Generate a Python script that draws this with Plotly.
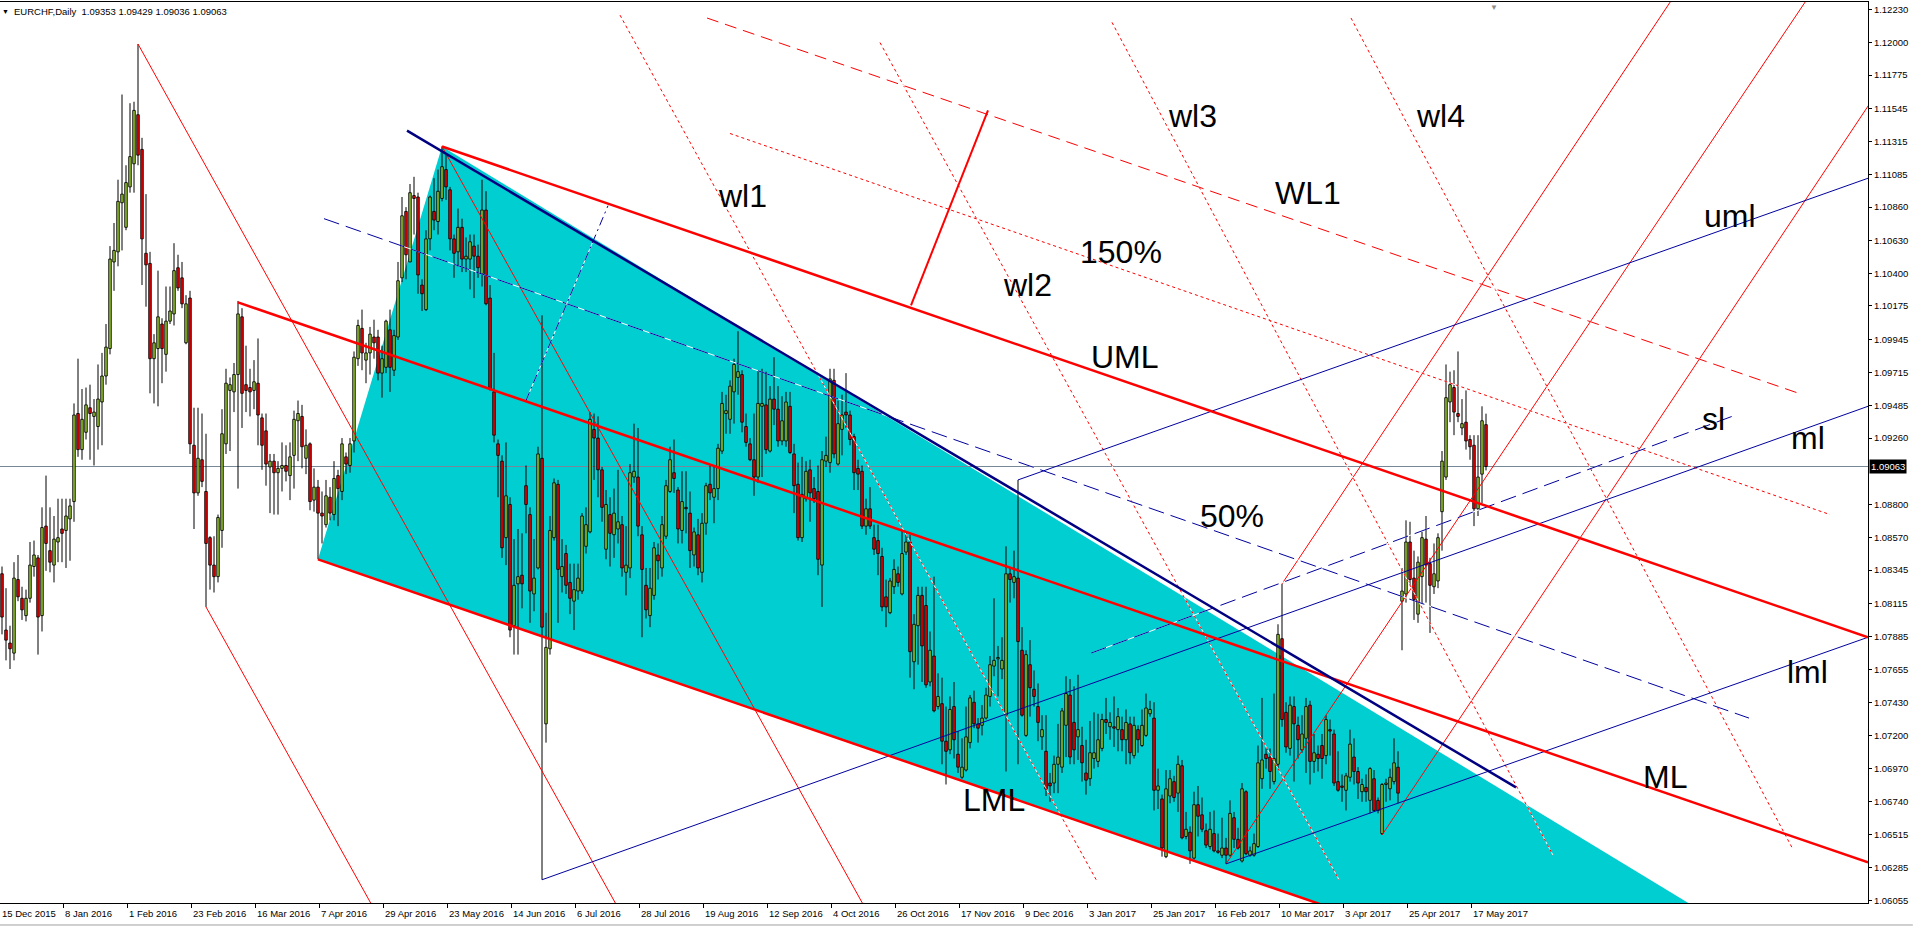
import plotly.graph_objects as go

# EURCHF daily candles; bar index 0 = 15 Dec 2015, one bar per trading day
opens = [
    1.0832, 1.0793, 1.0784, 1.0777, 1.0828, 1.0815, 1.0803, 1.0815, 1.0837, 1.0843,
    1.0803, 1.0865, 1.0848, 1.0838, 1.0854, 1.0863, 1.0862, 1.0870, 1.0882, 1.0943,
    1.0918, 1.0930, 1.0947, 1.0941, 1.0934, 1.0951, 1.0969, 1.0988, 1.1048, 1.1055,
    1.1089, 1.1072, 1.1100, 1.1116, 1.1150, 1.1126, 1.1054, 1.1047, 1.0981, 1.0988,
    1.1005, 1.0984, 1.1007, 1.1012, 1.1044, 1.1037, 1.0992, 1.1023, 1.0921, 1.0888,
    1.0911, 1.0889, 1.0857, 1.0838, 1.0830, 1.0862, 1.0922, 1.0959, 1.0958, 1.0970,
    1.1010, 1.0963, 1.0961, 1.0959, 1.0964, 1.0940, 1.0931, 1.0906, 1.0910, 1.0902,
    1.0905, 1.0907, 1.0900, 1.0914, 1.0938, 1.0941, 1.0912, 1.0922, 1.0883, 1.0892,
    1.0874, 1.0866, 1.0885, 1.0873, 1.0900, 1.0889, 1.0913, 1.0907, 1.0924, 1.0981,
    1.1002, 1.0980, 1.0985, 1.0996, 1.0996, 1.0971, 1.0975, 1.1001, 1.0973, 1.0996,
    1.1037, 1.1083, 1.1048, 1.1094, 1.1093, 1.1032, 1.1015, 1.1064, 1.1083, 1.1076,
    1.1092, 1.1112, 1.1098, 1.1064, 1.1055, 1.1072, 1.1050, 1.1050, 1.1059, 1.1052,
    1.1040, 1.1084, 1.1023, 1.0958, 1.0922, 1.0910, 1.0857, 1.0880, 1.0796, 1.0825,
    1.0831, 1.0893, 1.0873, 1.0818, 1.0836, 1.0912, 1.0728, 1.0780, 1.0857, 1.0894,
    1.0830, 1.0846, 1.0826, 1.0813, 1.0820, 1.0820, 1.0851, 1.0861, 1.0932, 1.0926,
    1.0904, 1.0849, 1.0873, 1.0859, 1.0863, 1.0866, 1.0833, 1.0836, 1.0899, 1.0899,
    1.0859, 1.0824, 1.0803, 1.0817, 1.0845, 1.0836, 1.0858, 1.0889, 1.0902, 1.0890,
    1.0862, 1.0878, 1.0874, 1.0845, 1.0859, 1.0833, 1.0867, 1.0894, 1.0885, 1.0891,
    1.0917, 1.0943, 1.0939, 1.0958, 1.0968, 1.0970, 1.0934, 1.0922, 1.0911, 1.0899,
    1.0948, 1.0949, 1.0917, 1.0953, 1.0946, 1.0924, 1.0924, 1.0948, 1.0915, 1.0894,
    1.0857, 1.0884, 1.0904, 1.0891, 1.0889, 1.0838, 1.0910, 1.0909, 1.0966, 1.0908,
    1.0932, 1.0944, 1.0942, 1.0927, 1.0905, 1.0903, 1.0865, 1.0877, 1.0857, 1.0855,
    1.0844, 1.0816, 1.0805, 1.0823, 1.0832, 1.0818, 1.0847, 1.0854, 1.0771, 1.0796,
    1.0817, 1.0810, 1.0757, 1.0775, 1.0740, 1.0742, 1.0716, 1.0710, 1.0740, 1.0707,
    1.0691, 1.0696, 1.0715, 1.0743, 1.0728, 1.0727, 1.0732, 1.0747, 1.0768, 1.0773,
    1.0766, 1.0734, 1.0832, 1.0826, 1.0829, 1.0779, 1.0720, 1.0769, 1.0752, 1.0740,
    1.0719, 1.0709, 1.0687, 1.0687, 1.0700, 1.0698, 1.0727, 1.0748, 1.0729, 1.0719,
    1.0713, 1.0694, 1.0690, 1.0704, 1.0702, 1.0711, 1.0731, 1.0726, 1.0726, 1.0724,
    1.0724, 1.0717, 1.0728, 1.0706, 1.0724, 1.0713, 1.0720, 1.0735, 1.0732, 1.0682,
    1.0676, 1.0636, 1.0678, 1.0688, 1.0680, 1.0699, 1.0650, 1.0653, 1.0635, 1.0672,
    1.0665, 1.0654, 1.0643, 1.0652, 1.0640, 1.0637, 1.0642, 1.0637, 1.0663, 1.0648,
    1.0633, 1.0681, 1.0637, 1.0637, 1.0643, 1.0690, 1.0707, 1.0705, 1.0688, 1.0700,
    1.0787, 1.0736, 1.0711, 1.0740, 1.0727, 1.0710, 1.0718, 1.0741, 1.0702, 1.0707,
    1.0713, 1.0706, 1.0724, 1.0721, 1.0688, 1.0685, 1.0682, 1.0691, 1.0705, 1.0695,
    1.0681, 1.0684, 1.0675, 1.0690, 1.0675, 1.0652, 1.0686, 1.0683, 1.0688, 1.0698,
    1.0813, 1.0818, 1.0854, 1.0829, 1.0804, 1.0830, 1.0856, 1.0839, 1.0823, 1.0827,
    1.0875, 1.0899, 1.0951, 1.0961, 1.0943, 1.0933, 1.0937, 1.0925, 1.0921, 1.0877,
    1.0901, 1.09353,
]
highs = [
    1.0837, 1.0822, 1.0796, 1.0840, 1.0845, 1.0823, 1.0821, 1.0854, 1.0855, 1.0845,
    1.0878, 1.0900, 1.0878, 1.0872, 1.0884, 1.0884, 1.0884, 1.0884, 1.0950, 1.0981,
    1.0960, 1.0961, 1.0963, 1.0953, 1.0977, 1.0985, 1.1005, 1.1059, 1.1075, 1.1105,
    1.1164, 1.1115, 1.1158, 1.1159, 1.1199, 1.1134, 1.1095, 1.1055, 1.0998, 1.1042,
    1.1009, 1.1031, 1.1031, 1.1061, 1.1053, 1.1048, 1.1025, 1.1028, 1.0947, 1.0947,
    1.0943, 1.0929, 1.0858, 1.0858, 1.0873, 1.0946, 1.0974, 1.0968, 1.0978, 1.1021,
    1.1016, 1.0990, 1.0974, 1.0980, 1.0995, 1.0943, 1.0943, 1.0915, 1.0915, 1.0910,
    1.0923, 1.0921, 1.0923, 1.0945, 1.0952, 1.0949, 1.0932, 1.0923, 1.0905, 1.0897,
    1.0889, 1.0897, 1.0892, 1.0910, 1.0904, 1.0926, 1.0916, 1.0926, 1.0986, 1.1008,
    1.1015, 1.0992, 1.1003, 1.1008, 1.1001, 1.0990, 1.1008, 1.1015, 1.1001, 1.1048,
    1.1093, 1.1086, 1.1102, 1.1107, 1.1096, 1.1036, 1.1070, 1.1094, 1.1106, 1.1112,
    1.1128, 1.1123, 1.1100, 1.1067, 1.1085, 1.1078, 1.1065, 1.1067, 1.1067, 1.1060,
    1.1105, 1.1097, 1.1032, 1.0985, 1.0925, 1.0914, 1.0923, 1.0885, 1.0856, 1.0863,
    1.0860, 1.0907, 1.0878, 1.0856, 1.0920, 1.1011, 1.0805, 1.0872, 1.0898, 1.0897,
    1.0856, 1.0852, 1.0839, 1.0839, 1.0839, 1.0874, 1.0878, 1.0944, 1.0943, 1.0941,
    1.0906, 1.0890, 1.0885, 1.0891, 1.0904, 1.0872, 1.0865, 1.0908, 1.0936, 1.0933,
    1.0865, 1.0836, 1.0836, 1.0854, 1.0853, 1.0872, 1.0897, 1.0920, 1.0925, 1.0892,
    1.0903, 1.0903, 1.0889, 1.0864, 1.0870, 1.0874, 1.0895, 1.0907, 1.0906, 1.0922,
    1.0958, 1.0956, 1.0966, 1.0981, 1.1000, 1.0973, 1.0943, 1.0926, 1.0943, 1.0973,
    1.0974, 1.0972, 1.0962, 1.0982, 1.0962, 1.0955, 1.0958, 1.0958, 1.0922, 1.0909,
    1.0913, 1.0910, 1.0911, 1.0899, 1.0907, 1.0917, 1.0927, 1.0974, 1.0974, 1.0952,
    1.0956, 1.0971, 1.0945, 1.0929, 1.0911, 1.0907, 1.0884, 1.0892, 1.0866, 1.0866,
    1.0850, 1.0828, 1.0829, 1.0842, 1.0837, 1.0862, 1.0861, 1.0859, 1.0804, 1.0823,
    1.0823, 1.0823, 1.0792, 1.0830, 1.0763, 1.0760, 1.0740, 1.0747, 1.0757, 1.0723,
    1.0718, 1.0740, 1.0748, 1.0751, 1.0732, 1.0741, 1.0753, 1.0775, 1.0815, 1.0782,
    1.0788, 1.0851, 1.0836, 1.0848, 1.0897, 1.0795, 1.0779, 1.0786, 1.0765, 1.0756,
    1.0734, 1.0734, 1.0694, 1.0706, 1.0728, 1.0739, 1.0761, 1.0759, 1.0754, 1.0762,
    1.0726, 1.0717, 1.0730, 1.0736, 1.0735, 1.0735, 1.0746, 1.0736, 1.0747, 1.0739,
    1.0733, 1.0738, 1.0733, 1.0733, 1.0727, 1.0738, 1.0749, 1.0744, 1.0743, 1.0697,
    1.0679, 1.0696, 1.0696, 1.0692, 1.0706, 1.0703, 1.0667, 1.0657, 1.0681, 1.0685,
    1.0677, 1.0659, 1.0667, 1.0668, 1.0652, 1.0663, 1.0649, 1.0675, 1.0667, 1.0656,
    1.0687, 1.0682, 1.0643, 1.0652, 1.0713, 1.0746, 1.0711, 1.0711, 1.0749, 1.0797,
    1.0825, 1.0743, 1.0747, 1.0747, 1.0733, 1.0734, 1.0746, 1.0744, 1.0721, 1.0713,
    1.0721, 1.0734, 1.0731, 1.0724, 1.0709, 1.0693, 1.0694, 1.0724, 1.0718, 1.0698,
    1.0690, 1.0693, 1.0698, 1.0696, 1.0677, 1.0687, 1.0690, 1.0697, 1.0718, 1.0709,
    1.0836, 1.0869, 1.0868, 1.0848, 1.0844, 1.0861, 1.0872, 1.0843, 1.0853, 1.0860,
    1.0917, 1.0977, 1.0972, 1.0973, 1.0986, 1.0953, 1.0959, 1.0928, 1.0928, 1.0928,
    1.0948, 1.09429,
]
lows = [
    1.0790, 1.0772, 1.0766, 1.0772, 1.0813, 1.0800, 1.0799, 1.0812, 1.0830, 1.0776,
    1.0792, 1.0834, 1.0833, 1.0826, 1.0840, 1.0840, 1.0836, 1.0841, 1.0868, 1.0913,
    1.0911, 1.0925, 1.0911, 1.0907, 1.0918, 1.0921, 1.0963, 1.0984, 1.1028, 1.1045,
    1.1056, 1.1070, 1.1096, 1.1096, 1.1115, 1.1032, 1.1017, 1.0957, 1.0950, 1.0948,
    1.0964, 1.0972, 1.1005, 1.1004, 1.1028, 1.1016, 1.0991, 1.0915, 1.0863, 1.0886,
    1.0892, 1.0809, 1.0821, 1.0819, 1.0826, 1.0850, 1.0915, 1.0917, 1.0944, 1.0891,
    1.0933, 1.0944, 1.0941, 1.0946, 1.0921, 1.0904, 1.0893, 1.0874, 1.0873, 1.0873,
    1.0889, 1.0896, 1.0883, 1.0891, 1.0910, 1.0905, 1.0901, 1.0876, 1.0875, 1.0842,
    1.0853, 1.0864, 1.0869, 1.0869, 1.0865, 1.0883, 1.0901, 1.0902, 1.0916, 1.0976,
    1.0973, 1.0964, 1.0970, 1.0981, 1.0966, 1.0954, 1.0971, 1.0958, 1.0969, 1.0994,
    1.1034, 1.1036, 1.1048, 1.1067, 1.1026, 1.1014, 1.1014, 1.1056, 1.1070, 1.1067,
    1.1090, 1.1091, 1.1056, 1.1037, 1.1045, 1.1041, 1.1041, 1.1029, 1.1023, 1.1037,
    1.1031, 1.1018, 1.0959, 1.0923, 1.0885, 1.0843, 1.0838, 1.0788, 1.0776, 1.0776,
    1.0808, 1.0860, 1.0798, 1.0806, 1.0835, 1.0620, 1.0715, 1.0776, 1.0855, 1.0798,
    1.0819, 1.0818, 1.0804, 1.0793, 1.0814, 1.0818, 1.0846, 1.0860, 1.0897, 1.0885,
    1.0868, 1.0842, 1.0837, 1.0843, 1.0853, 1.0830, 1.0817, 1.0829, 1.0895, 1.0858,
    1.0788, 1.0801, 1.0795, 1.0814, 1.0828, 1.0830, 1.0856, 1.0888, 1.0888, 1.0853,
    1.0853, 1.0860, 1.0836, 1.0837, 1.0831, 1.0826, 1.0859, 1.0883, 1.0867, 1.0883,
    1.0915, 1.0929, 1.0929, 1.0936, 1.0956, 1.0930, 1.0920, 1.0910, 1.0886, 1.0895,
    1.0899, 1.0915, 1.0916, 1.0935, 1.0920, 1.0921, 1.0920, 1.0915, 1.0874, 1.0855,
    1.0854, 1.0882, 1.0868, 1.0881, 1.0831, 1.0809, 1.0906, 1.0902, 1.0912, 1.0907,
    1.0914, 1.0933, 1.0921, 1.0890, 1.0890, 1.0863, 1.0859, 1.0863, 1.0845, 1.0831,
    1.0806, 1.0795, 1.0804, 1.0818, 1.0823, 1.0817, 1.0845, 1.0760, 1.0752, 1.0769,
    1.0757, 1.0753, 1.0754, 1.0736, 1.0738, 1.0700, 1.0686, 1.0707, 1.0704, 1.0694,
    1.0690, 1.0695, 1.0711, 1.0725, 1.0715, 1.0720, 1.0731, 1.0740, 1.0761, 1.0747,
    1.0759, 1.0695, 1.0812, 1.0815, 1.0700, 1.0733, 1.0719, 1.0733, 1.0740, 1.0716,
    1.0710, 1.0678, 1.0674, 1.0680, 1.0680, 1.0694, 1.0705, 1.0700, 1.0700, 1.0703,
    1.0688, 1.0679, 1.0685, 1.0697, 1.0698, 1.0709, 1.0721, 1.0717, 1.0712, 1.0709,
    1.0709, 1.0700, 1.0700, 1.0704, 1.0708, 1.0712, 1.0719, 1.0733, 1.0668, 1.0669,
    1.0636, 1.0635, 1.0673, 1.0674, 1.0667, 1.0648, 1.0648, 1.0631, 1.0634, 1.0650,
    1.0653, 1.0642, 1.0641, 1.0639, 1.0638, 1.0635, 1.0631, 1.0636, 1.0642, 1.0641,
    1.0632, 1.0637, 1.0636, 1.0636, 1.0642, 1.0683, 1.0697, 1.0683, 1.0686, 1.0697,
    1.0726, 1.0708, 1.0706, 1.0688, 1.0704, 1.0708, 1.0694, 1.0686, 1.0694, 1.0695,
    1.0690, 1.0700, 1.0706, 1.0685, 1.0681, 1.0674, 1.0668, 1.0688, 1.0686, 1.0676,
    1.0674, 1.0674, 1.0666, 1.0667, 1.0666, 1.0651, 1.0674, 1.0675, 1.0686, 1.0673,
    1.0779, 1.0812, 1.0824, 1.0800, 1.0798, 1.0811, 1.0812, 1.0791, 1.0818, 1.0822,
    1.0848, 1.0897, 1.0937, 1.0928, 1.0937, 1.0928, 1.0918, 1.0911, 1.0865, 1.0872,
    1.0881, 1.09036,
]
closes = [
    1.0802, 1.0786, 1.0780, 1.0829, 1.0816, 1.0807, 1.0815, 1.0838, 1.0845, 1.0802,
    1.0864, 1.0853, 1.0840, 1.0856, 1.0857, 1.0860, 1.0872, 1.0879, 1.0942, 1.0918,
    1.0939, 1.0949, 1.0943, 1.0944, 1.0953, 1.0969, 1.0989, 1.1050, 1.1056, 1.1090,
    1.1095, 1.1103, 1.1121, 1.1153, 1.1122, 1.1064, 1.1046, 1.0981, 1.0992, 1.1010,
    1.0988, 1.1007, 1.1014, 1.1042, 1.1030, 1.1019, 1.1019, 1.0922, 1.0888, 1.0912,
    1.0896, 1.0853, 1.0838, 1.0830, 1.0871, 1.0929, 1.0964, 1.0963, 1.0970, 1.1012,
    1.0957, 1.0959, 1.0958, 1.0965, 1.0942, 1.0921, 1.0908, 1.0910, 1.0902, 1.0905,
    1.0907, 1.0903, 1.0913, 1.0939, 1.0943, 1.0920, 1.0921, 1.0882, 1.0892, 1.0874,
    1.0872, 1.0886, 1.0874, 1.0898, 1.0891, 1.0922, 1.0908, 1.0922, 1.0982, 1.1004,
    1.0985, 1.0985, 1.0998, 1.0992, 1.0971, 1.0981, 1.1007, 1.0975, 1.0997, 1.1035,
    1.1080, 1.1053, 1.1096, 1.1092, 1.1039, 1.1026, 1.1064, 1.1093, 1.1077, 1.1097,
    1.1114, 1.1100, 1.1064, 1.1054, 1.1072, 1.1050, 1.1052, 1.1062, 1.1052, 1.1044,
    1.1084, 1.1019, 1.0960, 1.0928, 1.0914, 1.0850, 1.0886, 1.0793, 1.0824, 1.0830,
    1.0825, 1.0880, 1.0820, 1.0829, 1.0915, 1.0795, 1.0781, 1.0862, 1.0895, 1.0835,
    1.0837, 1.0824, 1.0815, 1.0821, 1.0829, 1.0872, 1.0866, 1.0939, 1.0926, 1.0904,
    1.0878, 1.0880, 1.0860, 1.0874, 1.0868, 1.0836, 1.0838, 1.0902, 1.0903, 1.0865,
    1.0835, 1.0807, 1.0822, 1.0850, 1.0841, 1.0866, 1.0893, 1.0911, 1.0898, 1.0863,
    1.0882, 1.0877, 1.0848, 1.0861, 1.0836, 1.0867, 1.0893, 1.0888, 1.0891, 1.0919,
    1.0950, 1.0945, 1.0962, 1.0977, 1.0972, 1.0937, 1.0923, 1.0911, 1.0899, 1.0950,
    1.0950, 1.0918, 1.0953, 1.0946, 1.0924, 1.0938, 1.0951, 1.0916, 1.0893, 1.0857,
    1.0887, 1.0903, 1.0888, 1.0884, 1.0842, 1.0911, 1.0914, 1.0967, 1.0915, 1.0936,
    1.0942, 1.0942, 1.0925, 1.0902, 1.0901, 1.0865, 1.0877, 1.0865, 1.0849, 1.0846,
    1.0809, 1.0809, 1.0827, 1.0835, 1.0826, 1.0846, 1.0854, 1.0778, 1.0797, 1.0817,
    1.0782, 1.0755, 1.0779, 1.0737, 1.0747, 1.0716, 1.0709, 1.0738, 1.0717, 1.0698,
    1.0698, 1.0719, 1.0746, 1.0728, 1.0725, 1.0732, 1.0748, 1.0769, 1.0772, 1.0774,
    1.0772, 1.0832, 1.0828, 1.0830, 1.0785, 1.0734, 1.0776, 1.0753, 1.0747, 1.0729,
    1.0724, 1.0683, 1.0685, 1.0700, 1.0705, 1.0737, 1.0749, 1.0705, 1.0710, 1.0724,
    1.0701, 1.0689, 1.0708, 1.0708, 1.0717, 1.0731, 1.0729, 1.0729, 1.0725, 1.0733,
    1.0717, 1.0729, 1.0708, 1.0727, 1.0717, 1.0727, 1.0739, 1.0738, 1.0682, 1.0685,
    1.0642, 1.0683, 1.0690, 1.0677, 1.0700, 1.0649, 1.0655, 1.0640, 1.0672, 1.0664,
    1.0655, 1.0644, 1.0655, 1.0640, 1.0639, 1.0642, 1.0637, 1.0666, 1.0648, 1.0642,
    1.0683, 1.0638, 1.0640, 1.0645, 1.0701, 1.0703, 1.0704, 1.0695, 1.0704, 1.0790,
    1.0731, 1.0712, 1.0741, 1.0728, 1.0717, 1.0721, 1.0740, 1.0702, 1.0708, 1.0704,
    1.0704, 1.0731, 1.0723, 1.0687, 1.0682, 1.0684, 1.0692, 1.0714, 1.0695, 1.0687,
    1.0686, 1.0681, 1.0697, 1.0668, 1.0668, 1.0686, 1.0687, 1.0691, 1.0701, 1.0680,
    1.0820, 1.0854, 1.0828, 1.0814, 1.0840, 1.0857, 1.0838, 1.0824, 1.0832, 1.0857,
    1.0910, 1.0954, 1.0963, 1.0944, 1.0941, 1.0936, 1.0924, 1.0920, 1.0877, 1.0899,
    1.0938, 1.09063,
]
last_price = 1.09063

date_labels = [
    "15 Dec 2015", "8 Jan 2016", "1 Feb 2016", "23 Feb 2016", "16 Mar 2016",
    "7 Apr 2016", "29 Apr 2016", "23 May 2016", "14 Jun 2016", "6 Jul 2016",
    "28 Jul 2016", "19 Aug 2016", "12 Sep 2016", "4 Oct 2016", "26 Oct 2016",
    "17 Nov 2016", "9 Dec 2016", "3 Jan 2017", "25 Jan 2017", "16 Feb 2017",
    "10 Mar 2017", "3 Apr 2017", "25 Apr 2017", "17 May 2017",
]
date_bars = [16 * k for k in range(len(date_labels))]

# 1.09030 sits under the current-price box on the chart, so it is left out
price_labels = [
    "1.12230", "1.12000", "1.11775", "1.11545", "1.11315", "1.11085", "1.10860",
    "1.10630", "1.10400", "1.10175", "1.09945", "1.09715", "1.09485", "1.09260",
    "1.08800", "1.08570", "1.08345", "1.08115", "1.07885", "1.07655",
    "1.07430", "1.07200", "1.06970", "1.06740", "1.06515", "1.06285", "1.06055",
]

# drawn objects, as (bar index list, price list)
red_uml = ([110, 466.5], [1.1128, 1.0788])
red_ml = ([59, 466.5], [1.1020, 1.0632])
red_lml = ([79, 380], [1.0842, 1.0555])
red_wl1 = ([176.25, 450.25], [1.1217, 1.0956])
red_150 = ([182, 457], [1.1137, 1.0873])
red_gauge = ([227.25, 246.5], [1.1018, 1.1153])
red_down = [
    ([34, 166.75], [1.1199, 1.0537]),
    ([51, 105.6], [1.0809, 1.0537]),
    ([110, 228.5], [1.1128, 1.0537]),
]
red_up = [
    ([306, 459.5], [1.0631, 1.1264]),
    ([320, 425.7], [1.0825, 1.1264]),
    ([345, 492.5], [1.0651, 1.1264]),
]
red_wl_dots = [
    ([154.5, 273.75], [1.1219, 1.0619]),
    ([219.5, 334.25], [1.1200, 1.0620]),
    ([277.5, 387.75], [1.1214, 1.0637]),
    ([337.25, 447.75], [1.1217, 1.0641]),
]
navy_trend = ([101.25, 378.5], [1.1139, 1.0684])
blue_ml = ([135, 466.5], [1.0620, 1.0948])
blue_uml = ([254, 466.5], [1.0897, 1.1106])
blue_lml = ([306, 466.5], [1.0631, 1.0788])
blue_sl = ([272.25, 432.5], [1.0777, 1.0941])
blue_half = ([80.5, 436.75], [1.1078, 1.0732])
blue_gauge = ([131, 151.5], [1.0952, 1.1087])
triangle_x = [79, 110, 544]
triangle_y = [1.0842, 1.1128, 1.0398]

label_text = ["wl1", "wl2", "150%", "wl3", "wl4", "WL1", "UML", "50%", "LML",
              "uml", "sl", "ml", "lml", "ML"]
label_x = [185, 256.25, 279.75, 297.5, 359.5, 326.5, 280.75, 307.5, 248,
           432, 427.75, 451.5, 451.25, 415.75]
label_y = [1.1094, 1.1032, 1.1055, 1.1149, 1.1149, 1.1096, 1.0982, 1.0872, 1.0675,
           1.1080, 1.0939, 1.0926, 1.0764, 1.0691]

FONT = "Liberation Sans, Arial, sans-serif"
BULL = "#9ACD32"
BEAR = "#FF0000"
RED = "#FF0000"
NAVY = "#000080"
BLUE = "#00009C"
X_RANGE = [-0.5, 466.5]
Y_RANGE = [1.06039, 1.12281]

fig = go.Figure()

# candle bodies
idx = list(range(len(opens)))
body_base = [min(o, c) for o, c in zip(opens, closes)]
body_h = [abs(c - o) for o, c in zip(opens, closes)]
body_col = [BULL if c >= o else BEAR for o, c in zip(opens, closes)]
fig.add_trace(go.Bar(
    x=idx, y=body_h, base=body_base, width=0.62,
    marker=dict(color=body_col, line=dict(color="black", width=0.9)),
    hoverinfo="skip",
))

# wicks above and below the body
wx, wy = [], []
for i, (o, h, l, c) in enumerate(zip(opens, highs, lows, closes)):
    top, bot = max(o, c), min(o, c)
    wx += [i, i, None, i, i, None]
    wy += [h, top, None, bot, l, None]
fig.add_trace(go.Scatter(x=wx, y=wy, mode="lines",
                         line=dict(color="black", width=1), hoverinfo="skip"))


def add_line(pts, color, width=1.0, dash="solid", white_gaps=False):
    xs, ys = pts
    if white_gaps:
        fig.add_trace(go.Scatter(x=xs, y=ys, mode="lines",
                                 line=dict(color="white", width=width),
                                 hoverinfo="skip"))
    fig.add_trace(go.Scatter(x=xs, y=ys, mode="lines",
                             line=dict(color=color, width=width, dash=dash),
                             hoverinfo="skip"))


DOT = "3px,3px"
DASH = "16px,7px"

for pts in red_down + red_up:
    add_line(pts, RED, 1)
for pts in red_wl_dots:
    add_line(pts, RED, 1, DOT, True)
add_line(red_150, RED, 1, DOT, True)
add_line(red_wl1, RED, 1, "12px,7px", True)
add_line(blue_half, BLUE, 1, DASH, True)
add_line(blue_sl, BLUE, 1, DASH, True)
add_line(blue_gauge, BLUE, 1, "9px,4px,2px,4px", True)
add_line(blue_ml, BLUE, 1)
add_line(blue_uml, BLUE, 1)
add_line(blue_lml, BLUE, 1)
add_line(red_uml, RED, 2.5)
add_line(red_ml, RED, 2.5)
add_line(red_lml, RED, 2.5)
add_line(red_gauge, RED, 2)
add_line(navy_trend, NAVY, 2.5)

shapes = [
    dict(type="path", xref="x", yref="y", layer="below",
         path="M {} {} L {} {} L {} {} Z".format(triangle_x[0], triangle_y[0],
                                                 triangle_x[1], triangle_y[1],
                                                 triangle_x[2], triangle_y[2]),
         fillcolor="#00CED1", line=dict(width=0)),
    dict(type="line", xref="x", yref="y", layer="below",
         x0=X_RANGE[0], x1=X_RANGE[1], y0=last_price, y1=last_price,
         line=dict(color="#778899", width=1)),
    dict(type="line", xref="paper", yref="paper", x0=0, x1=1.024,
         y0=-0.0244, y1=-0.0244, line=dict(color="#A0A0A0", width=1)),
]

annotations = []
for t, x, y in zip(label_text, label_x, label_y):
    annotations.append(dict(x=x, y=y, xref="x", yref="y", text=t, showarrow=False,
                            xanchor="center", yanchor="middle",
                            font=dict(family=FONT, size=32, color="black")))
for t, b in zip(date_labels, date_bars):
    # the first tick sits just left of the visible range; pin it to the edge
    annotations.append(dict(x=max(b - 0.75, X_RANGE[0]), y=0, xref="x",
                            yref="paper", text=t, showarrow=False,
                            xanchor="left", yanchor="top", yshift=-3,
                            font=dict(family=FONT, size=9.5, color="black")))
annotations += [
    dict(x=0, y=1, xref="paper", yref="paper", text="▼", showarrow=False,
         xanchor="center", yanchor="middle", xshift=5, yshift=-9,
         font=dict(family=FONT, size=7, color="black")),
    dict(x=0, y=1, xref="paper", yref="paper",
         text="EURCHF,Daily  1.09353 1.09429 1.09036 1.09063", showarrow=False,
         xanchor="left", yanchor="middle", xshift=12, yshift=-9,
         font=dict(family=FONT, size=9.5, color="black")),
    dict(x=373, y=1, xref="x", yref="paper", text="▼", showarrow=False,
         xanchor="center", yanchor="top", yshift=1,
         font=dict(family=FONT, size=8, color="#8C8C8C")),
    dict(x=1, y=last_price, xref="paper", yref="y", text="1.09063",
         showarrow=False, xanchor="left", yanchor="middle", xshift=1,
         bgcolor="black", borderpad=1,
         font=dict(family=FONT, size=9.5, color="white")),
]

fig.update_layout(
    width=1913, height=927, autosize=False,
    margin=dict(l=0, r=45, t=2, b=24, pad=0),
    paper_bgcolor="white", plot_bgcolor="white",
    showlegend=False, hovermode=False, dragmode=False,
    bargap=0, shapes=shapes, annotations=annotations,
    xaxis=dict(range=X_RANGE, showgrid=False, zeroline=False, showline=True,
               linecolor="black", linewidth=1, mirror=True,
               tickmode="array", tickvals=[b - 0.75 for b in date_bars],
               showticklabels=False, ticks="outside", ticklen=4,
               tickcolor="black", automargin=False, fixedrange=True),
    yaxis=dict(range=Y_RANGE, side="right", showgrid=False, zeroline=False,
               showline=True, linecolor="black", linewidth=1,
               tickmode="array", tickvals=[float(p) for p in price_labels],
               ticktext=price_labels, ticks="outside", ticklen=3,
               tickcolor="black", automargin=False, fixedrange=True,
               tickfont=dict(family=FONT, size=9.5, color="black")),
)

fig.write_html("out.html", config={"displayModeBar": False, "staticPlot": True},
               post_script="document.body.style.margin='0';")
